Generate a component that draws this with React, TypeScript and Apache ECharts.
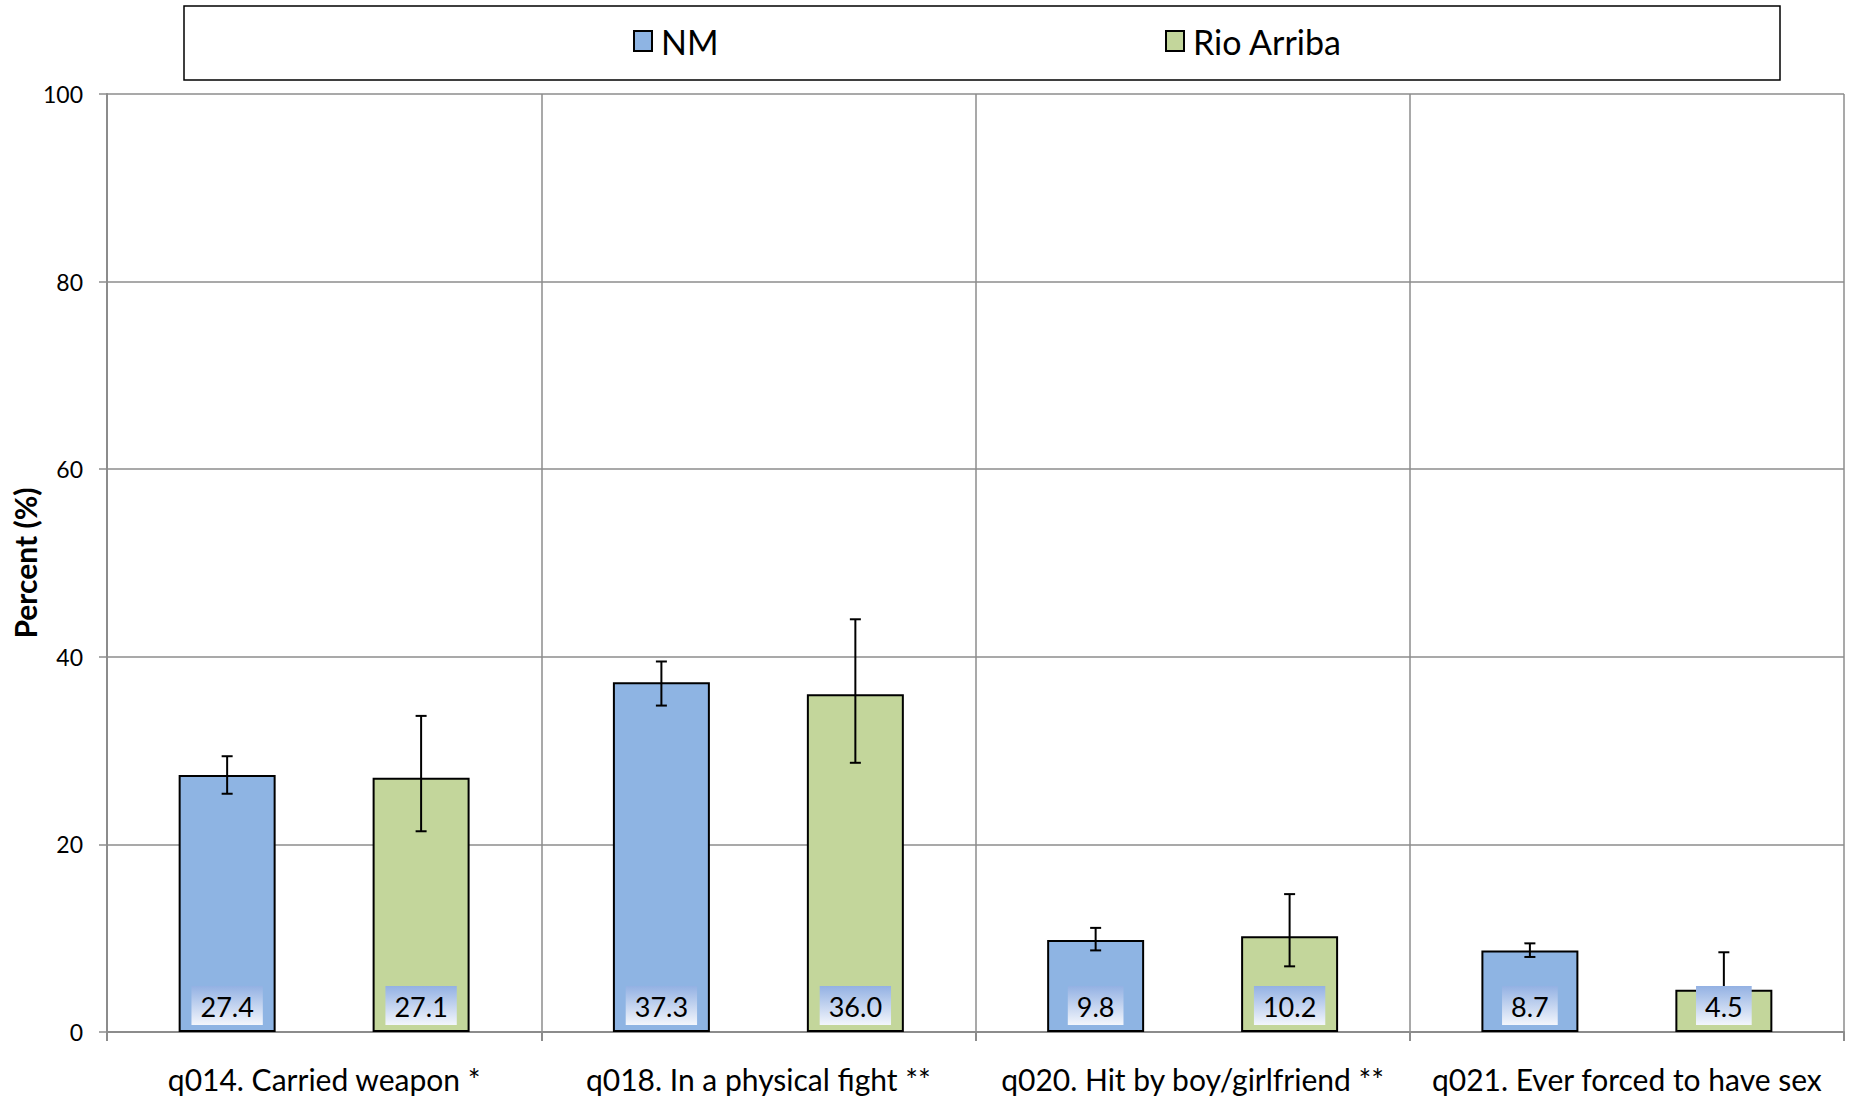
import React, { useEffect, useRef } from "react";
import * as echarts from "echarts";

const categories = [
  "q014. Carried weapon *",
  "q018. In a physical fight **",
  "q020. Hit by boy/girlfriend **",
  "q021. Ever forced to have sex",
];
const seriesNames = ["NM", "Rio Arriba"];
const nmValues = [27.4, 37.3, 9.8, 8.7];
const nmLower = [25.4, 34.8, 8.7, 8.0];
const nmUpper = [29.4, 39.5, 11.1, 9.45];
const raValues = [27.1, 36.0, 10.2, 4.5];
const raLower = [21.4, 28.7, 7.0, 1.6];
const raUpper = [33.7, 44.0, 14.7, 8.5];
const yTicks = [0, 20, 40, 60, 80, 100];

const FONT = "Lato, 'Open Sans', sans-serif";
const BAR_GAP_FRAC = 0.33;

function errSeries(name: string, vals: number[], lo: number[], hi: number[], sign: number) {
  return {
    type: "custom",
    name: name + " err",
    z: 3,
    encode: { x: 0, y: [1, 2, 3] },
    data: vals.map((v, i) => [i, v, lo[i], hi[i]]),
    renderItem: (params: any, api: any) => {
      const cat = api.value(0);
      const val = api.value(1);
      const l = api.value(2);
      const h = api.value(3);
      const band = api.size([1, 0])[0];
      const bw = (band * (1 - BAR_GAP_FRAC)) / 3;
      const base = api.coord([cat, 0]);
      const x = base[0] + sign * bw;
      const yHi = api.coord([cat, h])[1];
      const yLo = api.coord([cat, l])[1];
      const cap = 5.5;
      const ls = { stroke: "#000", lineWidth: 2 };
      return {
        type: "group",
        children: [
          { type: "line", shape: { x1: x, y1: yHi, x2: x, y2: yLo }, style: ls },
          { type: "line", shape: { x1: x - cap, y1: yHi, x2: x + cap, y2: yHi }, style: ls },
          { type: "line", shape: { x1: x - cap, y1: yLo, x2: x + cap, y2: yLo }, style: ls },
          {
            type: "text",
            x: x,
            y: base[1] - 7,
            style: {
              text: val.toFixed(1),
              fontSize: 27,
              fontFamily: FONT,
              fill: "#000",
              align: "center",
              verticalAlign: "bottom",
              padding: [7, 9, 5, 9],
              backgroundColor: new echarts.graphic.LinearGradient(0, 0, 0, 1, [
                { offset: 0, color: "#93b1e3" },
                { offset: 1, color: "#f3f6fc" },
              ]),
            },
          },
        ],
      };
    },
  };
}

export default function App() {
  const ref = useRef<HTMLDivElement>(null);
  useEffect(() => {
    if (!ref.current) return;
    const chart = echarts.init(ref.current, null, { renderer: "svg" });
    const legendCommon = {
      top: 24,
      padding: 0,
      icon: "rect",
      itemWidth: 18,
      itemHeight: 20,
      itemGap: 0,
      itemStyle: { borderColor: "#000", borderWidth: 2 },
      textStyle: { fontSize: 34, color: "#000", fontFamily: FONT, padding: [0, 0, 0, 4] },
    };
    const option: any = {
      animation: false,
      backgroundColor: "#fff",
      textStyle: { fontFamily: FONT },
      graphic: [
        {
          type: "rect",
          z: -1,
          shape: { x: 184, y: 6, width: 1596, height: 74 },
          style: { fill: "#fff", stroke: "#000", lineWidth: 1.5 },
        },
      ],
      legend: [
        { ...legendCommon, data: [seriesNames[0]], left: 633 },
        { ...legendCommon, data: [seriesNames[1]], left: 1165 },
      ],
      grid: {
        left: 107,
        right: 7,
        top: 94,
        bottom: 69,
        containLabel: false,
        outerBoundsMode: "none",
      },
      xAxis: {
        type: "category",
        data: categories,
        axisLine: { lineStyle: { color: "#8c8c8c", width: 2 } },
        axisTick: { show: true, length: 9, lineStyle: { color: "#8c8c8c", width: 2 } },
        splitLine: { show: true, lineStyle: { color: "#8c8c8c", width: 1.5 } },
        axisLabel: { fontSize: 30, color: "#000", margin: 32, fontFamily: FONT, interval: 0 },
      },
      yAxis: {
        type: "value",
        min: yTicks[0],
        max: yTicks[yTicks.length - 1],
        interval: 20,
        name: "Percent (%)",
        nameLocation: "middle",
        nameGap: 67,
        nameMoveOverlap: false,
        nameTextStyle: { fontSize: 30, fontWeight: "bold", color: "#000", fontFamily: FONT },
        axisLine: { show: true, lineStyle: { color: "#8c8c8c", width: 2 } },
        axisTick: { show: true, length: 8, lineStyle: { color: "#8c8c8c", width: 1.5 } },
        splitLine: { show: true, lineStyle: { color: "#8c8c8c", width: 1.5 } },
        axisLabel: { fontSize: 23, color: "#000", margin: 24, fontFamily: FONT },
      },
      series: [
        {
          type: "bar",
          name: seriesNames[0],
          data: nmValues,
          barGap: "100%",
          barCategoryGap: "33%",
          itemStyle: { color: "#8eb4e3", borderColor: "#000", borderWidth: 2 },
        },
        {
          type: "bar",
          name: seriesNames[1],
          data: raValues,
          barGap: "100%",
          barCategoryGap: "33%",
          itemStyle: { color: "#c3d69b", borderColor: "#000", borderWidth: 2 },
        },
        errSeries(seriesNames[0], nmValues, nmLower, nmUpper, -1),
        errSeries(seriesNames[1], raValues, raLower, raUpper, 1),
      ],
    };
    chart.setOption(option);
    return () => chart.dispose();
  }, []);
  return (
    <div
      ref={ref}
      style={{ position: "fixed", left: 0, top: 0, width: 1851, height: 1101 }}
    />
  );
}
